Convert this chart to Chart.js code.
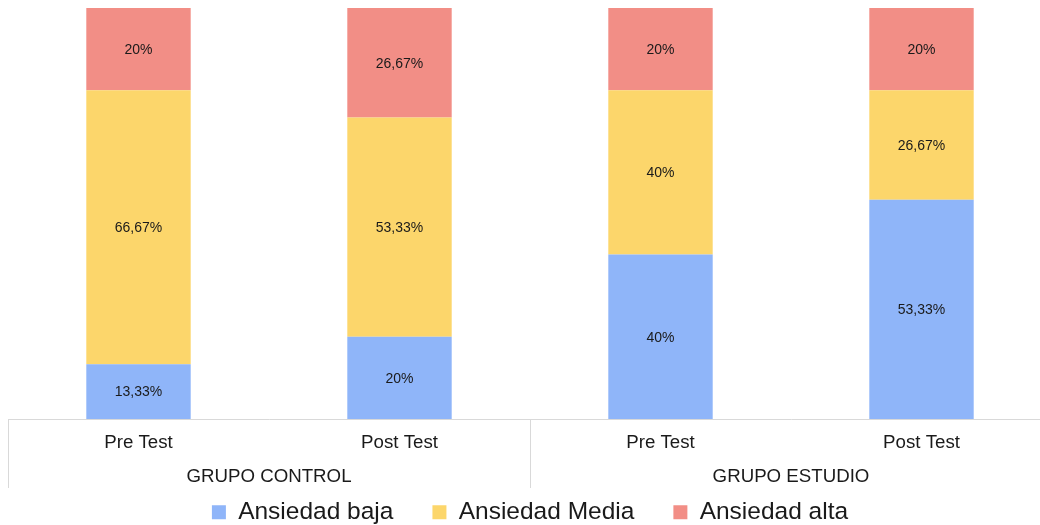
<!DOCTYPE html>
<html>
<head>
<meta charset="utf-8">
<script src="https://cdn.jsdelivr.net/npm/chart.js@4"></script>
<style>
  html, body { margin: 0; padding: 0; background: #fff; overflow: hidden; }
  #wrap { width: 1060px; height: 525px; }
</style>
</head>
<body>
<div id="wrap"><canvas id="grafico" width="1060" height="525"></canvas></div>
<script>
var categorias = ["Pre Test", "Post Test", "Pre Test", "Post Test"];
var grupos = ["GRUPO CONTROL", "GRUPO ESTUDIO"];
var series = ["Ansiedad baja", "Ansiedad Media", "Ansiedad alta"];
var baja = [13.33, 20, 40, 53.33];
var media = [66.67, 53.33, 40, 26.67];
var alta = [20, 26.67, 20, 20];
var colores = ["#8fb5f9", "#fcd66b", "#f28e86"];

var linea = "#d9d9d9";
var fuente = "'Liberation Sans', Arial, sans-serif";

// etiquetas de porcentaje dentro de cada tramo
var etiquetas = {
  id: "etiquetas",
  afterDatasetsDraw(chart) {
    var ctx = chart.ctx;
    ctx.save();
    ctx.font = "14px " + fuente;
    ctx.fillStyle = "#1a1a1a";
    ctx.textAlign = "center";
    ctx.textBaseline = "middle";
    chart.data.datasets.forEach(function (ds, i) {
      chart.getDatasetMeta(i).data.forEach(function (bar, j) {
        var txt = String(ds.data[j]).replace(".", ",") + "%";
        ctx.fillText(txt, bar.x, (bar.y + bar.base) / 2 + 1);
      });
    });
    ctx.restore();
  }
};

// segundo nivel del eje: nombres de grupo y separadores
var grupoEje = {
  id: "grupoEje",
  afterDraw(chart) {
    var ctx = chart.ctx;
    var x = chart.scales.x;
    var area = chart.chartArea;
    var paso = x.width / categorias.length;
    var porGrupo = categorias.length / grupos.length;
    ctx.save();
    ctx.strokeStyle = linea;
    ctx.lineWidth = 1;
    for (var g = 0; g <= grupos.length; g++) {
      var px = Math.round(x.left + g * porGrupo * paso) + 0.5;
      ctx.beginPath();
      ctx.moveTo(px, area.bottom);
      ctx.lineTo(px, area.bottom + 69);
      ctx.stroke();
    }
    ctx.font = "18.7px " + fuente;
    ctx.fillStyle = "#1a1a1a";
    ctx.textAlign = "center";
    ctx.textBaseline = "middle";
    grupos.forEach(function (nombre, g) {
      var a = x.getPixelForValue(g * porGrupo);
      var b = x.getPixelForValue((g + 1) * porGrupo - 1);
      ctx.fillText(nombre, (a + b) / 2, area.bottom + 58);
    });
    ctx.restore();
  }
};

new Chart("grafico", {
  type: "bar",
  data: {
    labels: categorias,
    datasets: [
      { label: series[0], data: baja, backgroundColor: colores[0] },
      { label: series[1], data: media, backgroundColor: colores[1] },
      { label: series[2], data: alta, backgroundColor: colores[2] }
    ]
  },
  options: {
    responsive: false,
    animation: false,
    layout: { padding: { left: 8, right: 8, top: 8, bottom: 0 } },
    datasets: { bar: { categoryPercentage: 1, barPercentage: 0.4 } },
    scales: {
      x: {
        stacked: true,
        grid: { display: false },
        border: { color: linea, width: 1 },
        ticks: {
          color: "#1a1a1a",
          padding: 5,
          font: { family: fuente, size: 18.7 }
        },
        afterFit(scale) { scale.height = 42; }
      },
      y: {
        stacked: true,
        display: false,
        min: 0,
        max: 100
      }
    },
    plugins: {
      tooltip: { enabled: false },
      legend: {
        position: "bottom",
        maxHeight: 64,
        labels: {
          color: "#1a1a1a",
          boxWidth: 14,
          boxHeight: 14,
          padding: 39,
          font: { family: fuente, size: 24.5 }
        }
      }
    }
  },
  plugins: [etiquetas, grupoEje]
});
</script>
</body>
</html>
